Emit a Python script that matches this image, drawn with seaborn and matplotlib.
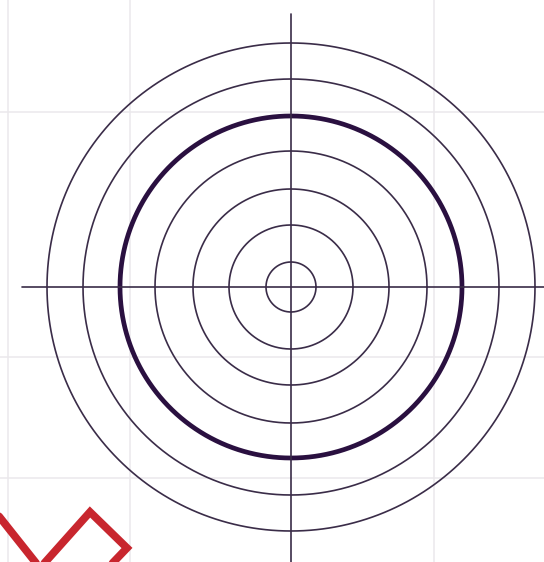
import numpy as np
import pandas as pd
import matplotlib
matplotlib.use("Agg")
import matplotlib.pyplot as plt
import seaborn as sns

# ring radii (px) around the centre, thick one marked
ring_radius = [25, 62, 98, 136, 171, 208, 244]
ring_thick = [False, False, False, False, True, False, False]
center = (291, 287)

# crosshair ends
cross_v = [(291, 14), (291, 562)]
cross_h = [(22, 287), (544, 287)]

# faint background grid
grid_x = [8, 130, 434]
grid_y = [112, 357, 478]

# red zigzag in the bottom left corner
zig_x = [-6, 40, 90, 127, 104]
zig_y = [510, 568, 512, 548, 572]

sns.set_style("white")

theta = np.linspace(0, 2 * np.pi, 721)
rows = []
for i, (r, thick) in enumerate(zip(ring_radius, ring_thick)):
    for t in theta:
        rows.append({"ring": i, "thick": thick,
                     "x": center[0] + r * np.cos(t),
                     "y": center[1] + r * np.sin(t)})
rings = pd.DataFrame(rows)

fig = plt.figure(figsize=(5.44, 5.62), dpi=100)
ax = fig.add_axes([0, 0, 1, 1])
ax.set_xlim(0, 544)
ax.set_ylim(562, 0)

for gx in grid_x:
    ax.axvline(gx, color="#ebe8ec", lw=1.1, zorder=0)
for gy in grid_y:
    ax.axhline(gy, color="#ebe8ec", lw=1.1, zorder=0)

sns.lineplot(data=rings[~rings["thick"]], x="x", y="y", units="ring",
             estimator=None, sort=False, color="#3a2c48", lw=1.2, ax=ax)
sns.lineplot(data=rings[rings["thick"]], x="x", y="y", units="ring",
             estimator=None, sort=False, color="#2a1040", lw=3.4, ax=ax)

ax.plot([p[0] for p in cross_v], [p[1] for p in cross_v], color="#3a2c48", lw=1.2)
ax.plot([p[0] for p in cross_h], [p[1] for p in cross_h], color="#3a2c48", lw=1.2)

ax.plot(zig_x, zig_y, color="#c8262e", lw=5.6, solid_joinstyle="miter")

ax.set_xlim(0, 544)
ax.set_ylim(562, 0)
ax.set_axis_off()

fig.savefig("out.png", dpi=100)
